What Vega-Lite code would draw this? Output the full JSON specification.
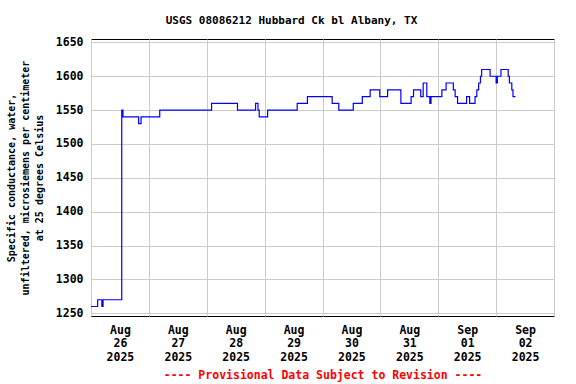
{
  "$schema": "https://vega.github.io/schema/vega-lite/v6.json",
  "width": 463,
  "height": 277,
  "autosize": {"type": "none"},
  "padding": {"left": 91, "top": 39, "right": 22, "bottom": 68},
  "background": "white",
  "title": {
    "text": "USGS 08086212 Hubbard Ck bl Albany, TX",
    "font": "DejaVu Sans Mono",
    "fontSize": 11,
    "fontWeight": "bold",
    "color": "black",
    "anchor": "middle",
    "dx": -31,
    "offset": 10
  },
  "data": {
    "values": [
      {"t": "2025-08-26T00:00", "v": 1260},
      {"t": "2025-08-26T02:45", "v": 1270},
      {"t": "2025-08-26T04:30", "v": 1260},
      {"t": "2025-08-26T05:00", "v": 1270},
      {"t": "2025-08-26T12:45", "v": 1550},
      {"t": "2025-08-26T13:15", "v": 1540},
      {"t": "2025-08-26T19:45", "v": 1530},
      {"t": "2025-08-26T20:45", "v": 1540},
      {"t": "2025-08-27T04:30", "v": 1550},
      {"t": "2025-08-28T02:00", "v": 1560},
      {"t": "2025-08-28T12:45", "v": 1550},
      {"t": "2025-08-28T20:15", "v": 1560},
      {"t": "2025-08-28T21:15", "v": 1550},
      {"t": "2025-08-28T21:45", "v": 1540},
      {"t": "2025-08-29T01:15", "v": 1550},
      {"t": "2025-08-29T13:30", "v": 1560},
      {"t": "2025-08-29T17:45", "v": 1570},
      {"t": "2025-08-30T04:00", "v": 1560},
      {"t": "2025-08-30T06:45", "v": 1550},
      {"t": "2025-08-30T12:45", "v": 1560},
      {"t": "2025-08-30T16:30", "v": 1570},
      {"t": "2025-08-30T19:45", "v": 1580},
      {"t": "2025-08-30T23:45", "v": 1570},
      {"t": "2025-08-31T03:00", "v": 1580},
      {"t": "2025-08-31T08:30", "v": 1560},
      {"t": "2025-08-31T12:45", "v": 1570},
      {"t": "2025-08-31T13:45", "v": 1580},
      {"t": "2025-08-31T16:45", "v": 1570},
      {"t": "2025-08-31T17:45", "v": 1590},
      {"t": "2025-08-31T19:15", "v": 1570},
      {"t": "2025-08-31T20:30", "v": 1560},
      {"t": "2025-08-31T21:00", "v": 1570},
      {"t": "2025-09-01T01:30", "v": 1580},
      {"t": "2025-09-01T03:15", "v": 1590},
      {"t": "2025-09-01T06:15", "v": 1580},
      {"t": "2025-09-01T07:00", "v": 1570},
      {"t": "2025-09-01T08:00", "v": 1560},
      {"t": "2025-09-01T11:45", "v": 1570},
      {"t": "2025-09-01T13:00", "v": 1560},
      {"t": "2025-09-01T15:15", "v": 1570},
      {"t": "2025-09-01T16:00", "v": 1580},
      {"t": "2025-09-01T16:45", "v": 1590},
      {"t": "2025-09-01T17:30", "v": 1600},
      {"t": "2025-09-01T18:00", "v": 1610},
      {"t": "2025-09-01T21:30", "v": 1600},
      {"t": "2025-09-02T00:00", "v": 1590},
      {"t": "2025-09-02T00:30", "v": 1600},
      {"t": "2025-09-02T02:00", "v": 1610},
      {"t": "2025-09-02T05:00", "v": 1600},
      {"t": "2025-09-02T05:30", "v": 1590},
      {"t": "2025-09-02T06:30", "v": 1580},
      {"t": "2025-09-02T07:00", "v": 1570},
      {"t": "2025-09-02T08:00", "v": 1570}
    ]
  },
  "mark": {"type": "line", "interpolate": "step-after", "color": "#0000ff", "strokeWidth": 1.2, "clip": true},
  "encoding": {
    "x": {
      "field": "t",
      "type": "temporal",
      "scale": {"domain": [{"year": 2025, "month": 8, "date": 26}, {"year": 2025, "month": 9, "date": 3}]},
      "axis": {
        "tickCount": 16,
        "ticks": false,
        "domain": false,
        "grid": true,
        "gridColor": "#cccccc",
        "gridOpacity": {"expr": "hours(datum.value) == 0 ? 1 : 0"},
        "labelExpr": "hours(datum.value) == 12 ? [timeFormat(datum.value, '%b'), timeFormat(datum.value, '%d'), timeFormat(datum.value, '%Y')] : ''",
        "labelOverlap": false,
        "labelFlush": false,
        "labelBound": false,
        "labelFont": "DejaVu Sans Mono",
        "labelFontSize": 11.5,
        "labelFontWeight": "bold",
        "labelColor": "black",
        "labelLineHeight": 13.5,
        "labelPadding": 8,
        "labelBaseline": "top",
        "title": "---- Provisional Data Subject to Revision ----",
        "titleFont": "DejaVu Sans Mono",
        "titleFontSize": 11.5,
        "titleFontWeight": "bold",
        "titleColor": "#ff0000",
        "titlePadding": 7
      }
    },
    "y": {
      "field": "v",
      "type": "quantitative",
      "scale": {"domain": [1246, 1655], "nice": false, "zero": false},
      "axis": {
        "values": [1250, 1300, 1350, 1400, 1450, 1500, 1550, 1600, 1650],
        "format": "d",
        "ticks": false,
        "domain": false,
        "grid": true,
        "gridColor": "#cccccc",
        "labelFont": "DejaVu Sans Mono",
        "labelFontSize": 11.5,
        "labelFontWeight": "bold",
        "labelColor": "black",
        "labelPadding": 8,
        "title": ["Specific conductance, water,", "unfiltered, microsiemens per centimeter", "at 25 degrees Celsius"],
        "titleFont": "DejaVu Sans Mono",
        "titleFontSize": 10,
        "titleFontWeight": "bold",
        "titleColor": "black",
        "titleLineHeight": 14,
        "titlePadding": 11
      }
    }
  },
  "config": {
    "view": {"stroke": "black", "strokeWidth": 1}
  }
}
